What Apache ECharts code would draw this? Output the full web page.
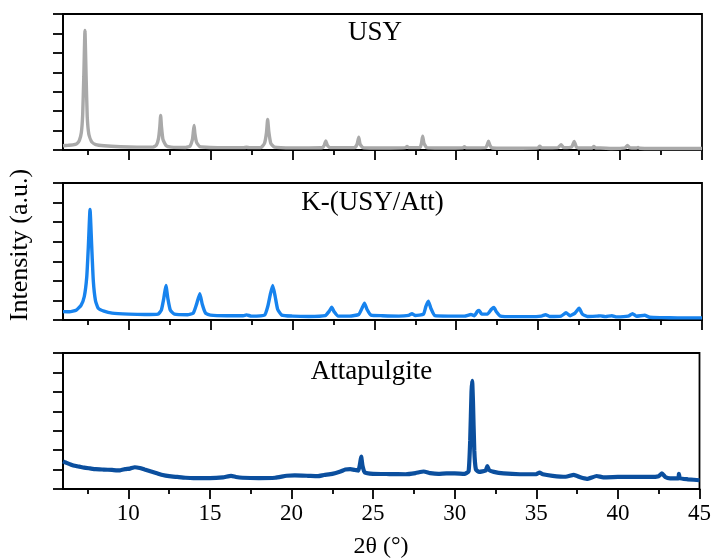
<!DOCTYPE html>
<html>
<head>
<meta charset="utf-8">
<script src="https://cdn.jsdelivr.net/npm/echarts@6/dist/echarts.min.js"></script>
<style>html,body{margin:0;padding:0;background:#fff}#c{width:714px;height:559px}</style>
</head>
<body>
<div id="c"></div>
<script>
const xMajorTicks = [10, 15, 20, 25, 30, 35, 40, 45];
const xMinorTicks = [7.5, 12.5, 17.5, 22.5, 27.5, 32.5, 37.5, 42.5];
const panelNames = ['USY', 'K-(USY/Att)', 'Attapulgite'];

const usy = [[6.0,0.22],[6.3,0.24],[6.6,0.26],[6.85,0.33],[7.0,0.5],[7.12,0.9],[7.2,1.8],[7.27,3.8],[7.34,6.15],[7.41,3.8],[7.48,1.7],[7.58,0.8],[7.75,0.42],[8.0,0.28],[8.5,0.22],[9.5,0.17],[10.5,0.15],[11.5,0.15],[11.7,0.25],[11.83,0.6],[11.91,1.2],[11.96,1.78],[12.01,1.2],[12.1,0.55],[12.3,0.22],[12.6,0.15],[13.5,0.13],[13.75,0.2],[13.9,0.55],[13.95,0.9],[14.0,1.26],[14.05,0.85],[14.15,0.4],[14.35,0.17],[15,0.13],[16,0.12],[17,0.12],[17.2,0.14],[17.4,0.12],[18.1,0.14],[18.3,0.35],[18.42,0.9],[18.49,1.57],[18.56,0.95],[18.68,0.35],[18.9,0.15],[20,0.11],[21,0.11],[21.85,0.13],[21.95,0.25],[22.04,0.47],[22.13,0.25],[22.3,0.12],[23.8,0.12],[23.95,0.3],[24.05,0.66],[24.13,0.3],[24.3,0.12],[25,0.1],[26,0.1],[26.9,0.12],[27.0,0.18],[27.1,0.12],[27.8,0.14],[27.88,0.35],[27.95,0.71],[28.03,0.35],[28.2,0.12],[29,0.1],[30.4,0.11],[30.5,0.17],[30.6,0.11],[31.8,0.12],[31.9,0.28],[31.97,0.45],[32.05,0.25],[32.2,0.1],[33,0.09],[34,0.09],[35.0,0.11],[35.1,0.2],[35.2,0.11],[36.2,0.12],[36.4,0.27],[36.55,0.12],[37.05,0.16],[37.2,0.44],[37.33,0.16],[37.5,0.1],[38.3,0.1],[38.4,0.18],[38.5,0.1],[38.8,0.1],[39.5,0.08],[40.3,0.11],[40.45,0.23],[40.6,0.11],[41.0,0.1],[41.1,0.13],[41.2,0.09],[42,0.08],[43,0.08],[44,0.08],[45,0.08]];

const kUsyAtt = [[6.0,0.43],[6.4,0.42],[6.8,0.5],[7.1,0.75],[7.3,1.2],[7.45,2.2],[7.55,3.8],[7.65,5.65],[7.75,3.8],[7.85,2.0],[7.98,1.0],[8.15,0.6],[8.5,0.45],[9,0.35],[10,0.3],[11,0.28],[11.8,0.3],[12.0,0.5],[12.15,1.1],[12.28,1.76],[12.4,1.1],[12.55,0.5],[12.8,0.3],[13.6,0.27],[13.95,0.35],[14.15,0.8],[14.35,1.35],[14.5,0.8],[14.7,0.35],[15,0.25],[16,0.22],[17,0.22],[17.2,0.26],[17.5,0.2],[18.3,0.25],[18.5,0.7],[18.65,1.3],[18.8,1.76],[18.95,1.2],[19.1,0.55],[19.35,0.25],[20,0.2],[21,0.18],[22.0,0.22],[22.25,0.45],[22.4,0.65],[22.55,0.42],[22.8,0.2],[23.5,0.2],[24.05,0.28],[24.25,0.6],[24.4,0.86],[24.55,0.55],[24.8,0.25],[25.5,0.22],[26.5,0.2],[27.1,0.24],[27.3,0.32],[27.5,0.23],[28.0,0.3],[28.15,0.7],[28.3,0.96],[28.45,0.6],[28.7,0.22],[29.5,0.2],[30.5,0.2],[30.9,0.28],[31.1,0.22],[31.3,0.45],[31.4,0.49],[31.55,0.3],[31.9,0.3],[32.15,0.55],[32.3,0.64],[32.45,0.42],[32.7,0.2],[33.5,0.17],[34.5,0.17],[35.2,0.2],[35.45,0.27],[35.7,0.18],[36.4,0.2],[36.7,0.37],[36.95,0.22],[37.25,0.35],[37.5,0.6],[37.7,0.3],[38.0,0.18],[38.6,0.2],[38.8,0.21],[39.1,0.17],[39.5,0.22],[39.8,0.16],[40.5,0.2],[40.76,0.32],[41.0,0.19],[41.5,0.24],[41.8,0.14],[42.5,0.12],[43.5,0.11],[45,0.11]];

const attapulgite = [[6.0,1.42],[6.2,1.35],[6.5,1.25],[6.8,1.18],[7.0,1.15],[7.3,1.1],[7.65,1.06],[8.0,1.02],[8.5,1.0],[9.0,0.98],[9.5,0.96],[9.8,1.02],[10.1,1.05],[10.4,1.12],[10.7,1.08],[11.0,1.0],[11.4,0.9],[11.8,0.8],[12.1,0.72],[12.5,0.66],[13.0,0.62],[13.5,0.58],[14.0,0.56],[15.0,0.56],[15.8,0.6],[16.3,0.68],[16.6,0.62],[17.0,0.58],[18.0,0.56],[19.0,0.58],[19.7,0.68],[20.2,0.7],[21.0,0.68],[21.6,0.66],[22.0,0.72],[22.5,0.78],[23.0,0.9],[23.3,1.0],[23.6,1.02],[23.9,0.98],[24.1,0.95],[24.2,1.3],[24.27,1.67],[24.35,1.2],[24.5,0.85],[25.0,0.78],[26.0,0.77],[27.0,0.76],[27.6,0.82],[28.1,0.9],[28.5,0.82],[29.0,0.78],[29.5,0.8],[30.0,0.8],[30.6,0.78],[30.85,0.9],[30.95,2.5],[31.03,5.0],[31.07,5.57],[31.12,4.5],[31.2,2.0],[31.3,1.0],[31.5,0.88],[31.9,0.95],[32.0,1.18],[32.1,0.98],[32.4,0.88],[33.0,0.8],[34.0,0.76],[35.0,0.76],[35.2,0.85],[35.4,0.76],[36.0,0.68],[36.8,0.63],[37.3,0.73],[37.7,0.6],[38.1,0.52],[38.7,0.67],[39.1,0.6],[40.0,0.62],[41.0,0.63],[42.0,0.62],[42.5,0.66],[42.7,0.8],[42.9,0.62],[43.2,0.55],[43.7,0.55],[43.74,0.78],[43.8,0.55],[44.3,0.5],[45.0,0.45]];

const seriesData = [usy, kUsyAtt, attapulgite];
const colors = ['#a9a9a9', '#1783ee', '#0b4f9e'];
const widths = [3.4, 3.4, 4.2];
const grids = [{top:14,height:136},{top:183,height:137},{top:353,height:136}];
const FONT = '"Liberation Serif", "Times New Roman", serif';
const lineStyle = {color:'#000', width:1.8};

const option = {
  animation:false,
  backgroundColor:'#fff',
  grid: grids.map(g => ({left:63, width:639, top:g.top, height:g.height, show:true, borderColor:'#000', borderWidth:1.8, backgroundColor:'transparent'})),
  xAxis: [],
  yAxis: [],
  series: [],
  graphic: []
};

grids.forEach((g, i) => {
  option.xAxis.push({
    type:'value', gridIndex:i, min:6, max:45, position:'bottom',
    axisLine:{show:true, lineStyle},
    axisTick:{show:true, inside:false, length:10, lineStyle, customValues:xMajorTicks},
    axisLabel:{show:i===2, customValues:xMajorTicks, color:'#000', fontFamily:FONT, fontSize:23, margin:13},
    splitLine:{show:false}
  });
  option.xAxis.push({
    type:'value', gridIndex:i, min:6, max:45, position:'bottom',
    axisLine:{show:false},
    axisTick:{show:true, inside:false, length:5, lineStyle, customValues:xMinorTicks},
    axisLabel:{show:false},
    splitLine:{show:false}
  });
  option.yAxis.push({
    type:'value', gridIndex:i, min:0, max:7, interval:1,
    axisLine:{show:true, lineStyle},
    axisTick:{show:true, inside:false, length:10, lineStyle},
    axisLabel:{show:false},
    splitLine:{show:false}
  });
  option.series.push({
    type:'line', xAxisIndex:i*2, yAxisIndex:i, data:seriesData[i],
    showSymbol:false, symbol:'none', smooth:0.15,
    lineStyle:{color:colors[i], width:widths[i]}, z:1
  });
});

const titlePos = [[375,32.5],[372.5,203],[371.5,372]];
panelNames.forEach((n, i) => {
  option.graphic.push({type:'text', x:titlePos[i][0], y:titlePos[i][1],
    style:{text:n, font:'27px ' + FONT, fill:'#000', align:'center', verticalAlign:'middle'}});
});
option.graphic.push({type:'text', x:381, y:547,
  style:{text:'2θ (°)', font:'24px ' + FONT, fill:'#000', align:'center', verticalAlign:'middle'}});
option.graphic.push({type:'text', x:20, y:245, rotation:Math.PI/2,
  style:{text:'Intensity (a.u.)', font:'26px ' + FONT, fill:'#000', align:'center', verticalAlign:'middle'}});

const chart = echarts.init(document.getElementById('c'), null, {renderer:'canvas'});
chart.setOption(option);
</script>
</body>
</html>
